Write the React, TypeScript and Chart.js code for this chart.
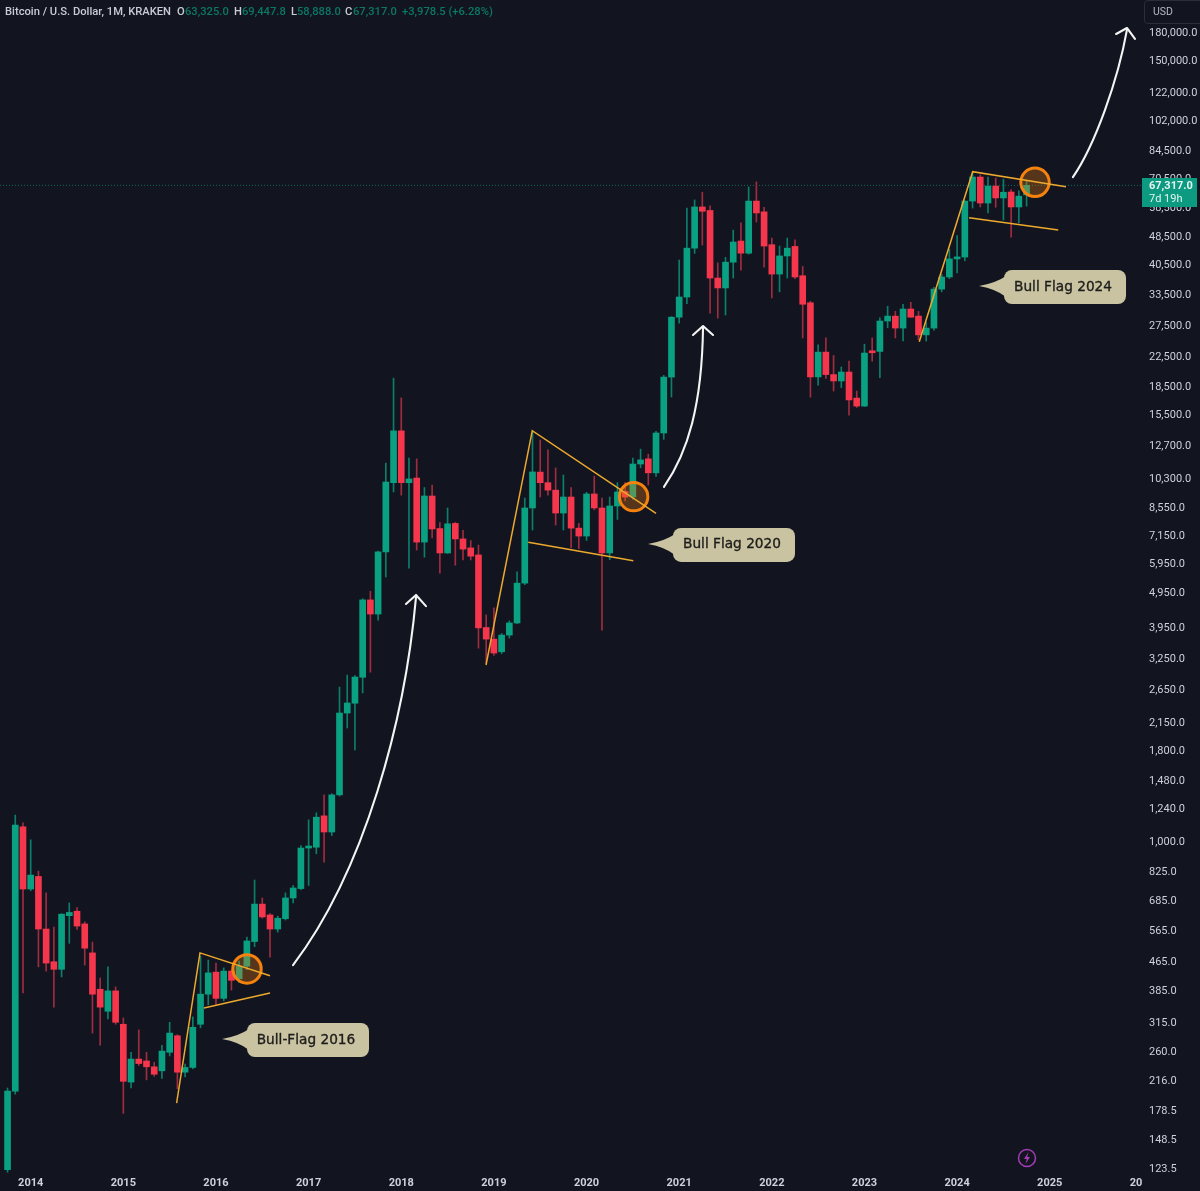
import React, { useEffect, useRef } from "react";
import { Chart, registerables } from "chart.js";

Chart.register(...registerables);

// Monthly candles, Oct 2013 .. Oct 2024 (KRAKEN BTC/USD)
const opens = [
  122, 202, 1100, 738, 800, 571, 463, 441, 622, 640, 590, 490, 388, 337, 384,
  310, 214, 248, 245, 236, 230, 259, 288, 228, 235, 310, 376,
  433, 366, 436, 415, 450, 527, 670, 625, 571, 610, 697, 740,
  960, 965, 1180, 1064, 1350, 2282, 2430, 2870, 4714, 4305, 6413, 10000,
  13940, 10000, 10300, 6830, 9180, 7450, 6370, 7700, 6970, 6580, 6290, 3950,
  3666, 3380, 3762, 4066, 5250, 8500, 10700, 10000, 9530, 8230, 9120, 7470,
  7100, 9300, 8500, 6370, 8610, 9450, 9120, 11270, 11650, 10650, 13750, 19680,
  28900, 32890, 45000, 58600, 57300, 37150, 34860, 41130, 47100, 43570, 60860, 56800,
  46000, 38100, 42800, 45500, 37700, 31700, 19700, 23100, 20000, 19200, 20330, 17200,
  16340, 23200, 23200, 28200, 29100, 26950, 30450, 29100, 25800, 26950, 34600, 37400,
  42000, 42500, 60860, 71000, 60100, 67000, 62100, 64500, 58600, 63325,
];
const highs = [
  206, 1186, 1128, 1012, 828, 720, 578, 630, 675, 655, 598, 525, 417, 448, 394,
  323, 259, 299, 259, 243, 271, 314, 290, 240, 325, 480, 468,
  459, 445, 440, 465, 542, 782, 697, 630, 620, 720, 755, 975,
  1150, 1203, 1350, 1360, 2696, 2911, 2900, 4750, 4980, 6450, 11330, 19550,
  17220, 11700, 11650, 9690, 9840, 7740, 8500, 7750, 7360, 6900, 6700, 4280,
  4480, 3800, 4120, 5640, 9060, 13840, 13150, 12340, 10990, 10500, 9690, 7700,
  9400, 10430, 9060, 9120, 10000, 10000, 11700, 12400, 12000, 13900, 19900, 29000,
  41700, 58200, 61300, 64400, 59000, 40950, 42400, 50500, 52900, 66600, 68800, 58500,
  48000, 45600, 48000, 47500, 40000, 32000, 24200, 25300, 22600, 21000, 21800, 18000,
  24300, 25300, 28800, 31000, 30000, 31400, 31800, 30000, 28000, 35000, 38000, 44700,
  48800, 61000, 73000, 72000, 71000, 70500, 70000, 65500, 65000, 69447.8,
];
const lows = [
  120, 198, 379, 730, 448, 436, 346, 420, 521, 570, 453, 293, 271, 321, 310,
  175, 206, 238, 217, 222, 219, 253, 205, 221, 233, 303, 351,
  352, 360, 386, 405, 440, 510, 612, 477, 560, 605, 675, 735,
  755, 925, 877, 1040, 1340, 2073, 1800, 2596, 2966, 4142, 5460, 9420,
  9230, 5780, 6490, 6200, 7020, 5600, 6350, 5890, 6090, 6090, 3460, 3140,
  3300, 3340, 3690, 4050, 5200, 7380, 9120, 9230, 7620, 7380, 6580, 6550,
  6900, 8400, 3883, 6100, 7900, 8900, 9000, 11000, 9840, 10400, 13200, 17320,
  27820, 31500, 43500, 45900, 29650, 28730, 29300, 37150, 39100, 43300, 53200, 39800,
  32700, 34000, 37150, 37000, 25300, 17300, 18700, 19500, 18000, 18400, 15420, 16200,
  16300, 21800, 19600, 27000, 25300, 24800, 28900, 25000, 24800, 26600, 34000, 37000,
  38400, 41500, 58200, 58600, 56400, 58500, 53900, 48300, 52900, 58888,
];
const closes = [
  202, 1112, 738, 807, 571, 459, 441, 628, 635, 582, 505, 376, 346, 384, 314,
  215, 248, 241, 236, 225, 261, 293, 228, 235, 304, 376, 431,
  366, 436, 411, 450, 529, 670, 617, 571, 612, 697, 743, 960,
  965, 1170, 1064, 1350, 2282, 2434, 2874, 4714, 4305, 6413, 10040, 13940,
  10000, 10240, 6830, 9180, 7430, 6370, 7680, 6970, 6530, 6240, 3940, 3666,
  3352, 3762, 4066, 5250, 8500, 10710, 10000, 9530, 8230, 9120, 7470, 7100,
  9300, 8500, 6370, 8610, 9420, 9120, 11270, 11570, 10650, 13750, 19680, 28900,
  32890, 45000, 58600, 57000, 37150, 34860, 41130, 46800, 43570, 60860, 56400, 45600,
  38100, 42800, 45000, 37400, 31400, 19700, 23100, 20000, 19200, 20330, 17000, 16340,
  22960, 23000, 28200, 29100, 26950, 30450, 28900, 25800, 26950, 34600, 37400, 42000,
  42500, 60860, 71000, 60100, 67000, 62100, 64400, 58600, 62800, 67317,
];

const yearLabels = ["2014", "2015", "2016", "2017", "2018", "2019", "2020", "2021", "2022", "2023", "2024", "2025", "2026"];
const yearFirstCandle = 3; // index of Jan 2014
const priceTicks = [
  180000, 150000, 122000, 102000, 84500, 70500, 58500, 48500, 40500, 33500, 27500, 22500,
  18500, 15500, 12700, 10300, 8550, 7150, 5950, 4950, 3950, 3250, 2650, 2150, 1800, 1480,
  1240, 1000, 825, 685, 565, 465, 385, 315, 260, 216, 178.5, 148.5, 123.5,
];
const lastPrice = 67317;
const lastPriceLabel = "67,317.0";
const countdownLabel = "7d 19h";

// drawings, in [candle index, price]
const flagLines = [
  [[21.9, 187], [24.93, 490], [34.0, 423]],
  [[25.45, 344], [34.0, 379]],
  [[61.98, 3105], [67.97, 13960], [84.0, 8214]],
  [[67.46, 6822], [81.06, 6062]],
  [[118.1, 24690], [125.02, 73490], [137.1, 66730]],
  [[124.55, 54700], [136.1, 50560]],
];
const breakoutCircles = [[31.02, 442], [81.1, 9140], [133.09, 68640]];
// each curve: start, control, control, end
const arrowCurves = [
  [[36.98, 453], [46.3, 834], [51.48, 2183], [52.91, 4800]],
  [[85.03, 9730], [88.14, 12170], [89.96, 16450], [90.09, 27120]],
  [[138.0, 70980], [140.86, 87200], [143.84, 132200], [145.0, 182400]],
];
const arrowHeads = [
  [[51.61, 4593], [52.91, 4866], [54.2, 4529]],
  [[88.79, 25780], [90.09, 27300], [91.38, 25780]],
  [[143.6, 177700], [145.0, 184700], [146.04, 172100]],
];
const callouts = [
  { label: "Bull-Flag 2016", at: [27.78, 282] },
  { label: "Bull Flag 2020", at: [82.96, 6750] },
  { label: "Bull Flag 2024", at: [125.84, 35300] },
];
const legendParts = [
  { text: "Bitcoin / U.S. Dollar, 1M, KRAKEN", x: 5, tone: "plain" },
  { text: "O", x: 177, tone: "plain" },
  { text: "63,325.0", x: 185, tone: "value" },
  { text: "H", x: 234, tone: "plain" },
  { text: "69,447.8", x: 242, tone: "value" },
  { text: "L", x: 291, tone: "plain" },
  { text: "58,888.0", x: 297, tone: "value" },
  { text: "C", x: 345, tone: "plain" },
  { text: "67,317.0", x: 353, tone: "value" },
  { text: "+3,978.5 (+6.28%)", x: 402, tone: "value" },
];

const BG = "#12151f";
const UP = "#0aa183";
const DOWN = "#f5364c";
const UP_WICK = "#0c7f6b";
const DOWN_WICK = "#a02c40";
const FLAG = "#eda92e";
const ORANGE = "#f5820f";
const CALLOUT = "#c9c3a1";
const AXIS_TEXT = "#ced1d9";
const PLOT_RIGHT = 1143;
const PLOT_BOTTOM = 1175;

const overlay = {
  id: "overlay",
  beforeDraw(chart: any) {
    const { ctx, width, height } = chart;
    ctx.save();
    ctx.fillStyle = BG;
    ctx.fillRect(0, 0, width, height);
    ctx.restore();
  },
  beforeDatasetsDraw(chart: any) {
    const { ctx, width, height, scales } = chart;
    ctx.save();
    // bottom strip hides the lowest price label's overflow
    ctx.fillStyle = BG;
    ctx.fillRect(PLOT_RIGHT, PLOT_BOTTOM - 3, width - PLOT_RIGHT, height - PLOT_BOTTOM + 3);
    // last price dotted line
    const y = scales.y.getPixelForValue(lastPrice);
    ctx.strokeStyle = "rgba(10,161,131,0.6)";
    ctx.lineWidth = 1;
    ctx.setLineDash([1, 2]);
    ctx.beginPath();
    ctx.moveTo(0, y);
    ctx.lineTo(PLOT_RIGHT, y);
    ctx.stroke();
    ctx.restore();
  },
  afterDraw(chart: any) {
    const { ctx, width, height, scales } = chart;
    const px = (p: number[]) => [scales.x.getPixelForValue(p[0]), scales.y.getPixelForValue(p[1])];
    ctx.save();
    // covers the part of the last year label that runs under the price axis
    ctx.fillStyle = BG;
    ctx.fillRect(PLOT_RIGHT, PLOT_BOTTOM, width - PLOT_RIGHT, height - PLOT_BOTTOM);

    // breakout circles
    breakoutCircles.forEach((c) => {
      const [x, y] = px(c);
      ctx.beginPath();
      ctx.arc(x, y, 14.2, 0, Math.PI * 2);
      ctx.fillStyle = "rgba(245,130,15,0.3)";
      ctx.fill();
      ctx.strokeStyle = ORANGE;
      ctx.lineWidth = 3;
      ctx.stroke();
    });

    // flag lines
    ctx.strokeStyle = FLAG;
    ctx.lineWidth = 1.5;
    ctx.lineJoin = "miter";
    flagLines.forEach((line) => {
      ctx.beginPath();
      line.forEach((p, i) => {
        const [x, y] = px(p);
        if (i === 0) ctx.moveTo(x, y);
        else ctx.lineTo(x, y);
      });
      ctx.stroke();
    });

    // arrows
    ctx.strokeStyle = "#f4f4f4";
    ctx.lineWidth = 2.1;
    ctx.lineCap = "round";
    ctx.lineJoin = "round";
    arrowCurves.forEach((curve) => {
      const [a, b, c, d] = curve.map(px);
      ctx.beginPath();
      ctx.moveTo(a[0], a[1]);
      ctx.bezierCurveTo(b[0], b[1], c[0], c[1], d[0], d[1]);
      ctx.stroke();
    });
    arrowHeads.forEach((head) => {
      ctx.beginPath();
      head.map(px).forEach(([x, y], i) => (i === 0 ? ctx.moveTo(x, y) : ctx.lineTo(x, y)));
      ctx.stroke();
    });

    // callouts
    callouts.forEach((c) => {
      const [tx, ty] = px(c.at);
      const bx = tx + 25;
      const by = ty - 16;
      const w = 122;
      const h = 34;
      ctx.fillStyle = CALLOUT;
      ctx.beginPath();
      ctx.roundRect(bx, by, w, h, 8);
      ctx.fill();
      ctx.beginPath();
      ctx.moveTo(tx, ty);
      ctx.quadraticCurveTo(bx - 8, ty - 3, bx + 2, ty - 10);
      ctx.lineTo(bx + 2, ty + 11);
      ctx.quadraticCurveTo(bx - 8, ty + 3, tx, ty);
      ctx.fill();
      ctx.fillStyle = "#1d1d1b";
      ctx.strokeStyle = "#1d1d1b";
      ctx.lineWidth = 0.35;
      ctx.font = "13.7px 'DejaVu Sans'";
      ctx.textAlign = "center";
      ctx.textBaseline = "middle";
      ctx.fillText(c.label, bx + w / 2 - 2, by + h / 2);
      ctx.strokeText(c.label, bx + w / 2 - 2, by + h / 2);
    });

    // last price badge
    const by = 178;
    ctx.fillStyle = "#0c9a80";
    ctx.fillRect(PLOT_RIGHT - 1, by, 55, 29);
    ctx.fillStyle = "#e6f5f1";
    ctx.font = "bold 11px Roboto";
    ctx.textAlign = "left";
    ctx.textBaseline = "middle";
    ctx.fillText(lastPriceLabel, 1149, by + 8);
    ctx.font = "11px Roboto";
    ctx.fillText(countdownLabel, 1149, by + 21);

    // currency box
    ctx.strokeStyle = "#2a2e39";
    ctx.lineWidth = 1;
    ctx.beginPath();
    ctx.roundRect(1144.5, 0.5, 60, 23, 3);
    ctx.stroke();
    ctx.fillStyle = "#b4b7bf";
    ctx.font = "10.5px Roboto";
    ctx.fillText("USD", 1153, 12.5);

    // header legend
    ctx.font = "500 11.2px Roboto";
    legendParts.forEach((p) => {
      ctx.fillStyle = p.tone === "plain" ? "#c9ccd4" : "#0b7766";
      ctx.fillText(p.text, p.x, 12);
    });

    // lightning badge
    ctx.strokeStyle = "#a53bb8";
    ctx.fillStyle = "#a53bb8";
    ctx.lineWidth = 1.5;
    ctx.beginPath();
    ctx.arc(1027, 1158, 8.5, 0, Math.PI * 2);
    ctx.stroke();
    ctx.beginPath();
    ctx.moveTo(1028.5, 1152);
    ctx.lineTo(1024, 1159);
    ctx.lineTo(1026.8, 1159);
    ctx.lineTo(1025.5, 1164);
    ctx.lineTo(1030, 1157);
    ctx.lineTo(1027.2, 1157);
    ctx.closePath();
    ctx.fill();
    ctx.restore();
  },
};

export default function App() {
  const ref = useRef<HTMLCanvasElement | null>(null);

  useEffect(() => {
    document.body.style.margin = "0";
    document.body.style.background = BG;
    const wicks = highs.map((h, i) => ({ x: i, y: [lows[i], h] }));
    const bodies = opens.map((o, i) => ({ x: i, y: [Math.min(o, closes[i]), Math.max(o, closes[i])] }));
    const isUp = (i: number) => closes[i] >= opens[i];

    const chart = new Chart(ref.current as HTMLCanvasElement, {
      type: "bar",
      data: {
        datasets: [
          {
            label: "wick",
            data: wicks as any,
            grouped: false,
            barThickness: 1,
            backgroundColor: highs.map((_, i) => (isUp(i) ? UP_WICK : DOWN_WICK)),
            order: 2,
          } as any,
          {
            label: "body",
            data: bodies as any,
            grouped: false,
            barThickness: 6,
            minBarLength: 2,
            backgroundColor: opens.map((_, i) => (isUp(i) ? UP : DOWN)),
            order: 1,
          } as any,
        ],
      },
      options: {
        responsive: false,
        animation: false,
        devicePixelRatio: 1,
        layout: { padding: 0 },
        plugins: { legend: { display: false }, tooltip: { enabled: false }, title: { display: false } },
        scales: {
          x: {
            type: "linear",
            offset: false,
            min: -0.977,
            max: 147.08,
            z: 1,
            grid: { display: false, drawTicks: false },
            border: { display: false },
            afterBuildTicks: (s: any) => {
              s.ticks = yearLabels.map((_, k) => ({ value: yearFirstCandle + k * 12 }));
            },
            afterFit: (s: any) => {
              s.height = 1191 - PLOT_BOTTOM;
              s.paddingLeft = 0;
              s.paddingRight = 0;
            },
            ticks: {
              autoSkip: false,
              maxRotation: 0,
              padding: 2,
              color: AXIS_TEXT,
              font: { family: "Roboto", size: 11, weight: "bold" },
              callback: (v: any) => yearLabels[Math.round((Number(v) - yearFirstCandle) / 12)],
            },
          },
          y: {
            type: "logarithmic",
            position: "right",
            min: 117.9,
            max: 221000,
            grid: { display: false, drawTicks: false },
            border: { display: false },
            afterBuildTicks: (s: any) => {
              s.ticks = priceTicks.map((v) => ({ value: v }));
            },
            afterFit: (s: any) => {
              s.width = 1200 - PLOT_RIGHT;
              s.paddingTop = 0;
              s.paddingBottom = 0;
            },
            ticks: {
              autoSkip: false,
              padding: 6,
              labelOffset: 1,
              color: AXIS_TEXT,
              font: { family: "Roboto", size: 11 },
              callback: (v: any) =>
                Number(v).toLocaleString("en-US", { minimumFractionDigits: 1, maximumFractionDigits: 1 }),
            },
          },
        } as any,
      },
      plugins: [overlay],
    } as any);
    return () => chart.destroy();
  }, []);

  return (
    <div style={{ position: "absolute", left: 0, top: 0, width: 1200, height: 1191, overflow: "hidden", background: BG }}>
      <canvas ref={ref} width={1200} height={1191} style={{ display: "block", width: 1200, height: 1191 }} />
    </div>
  );
}
